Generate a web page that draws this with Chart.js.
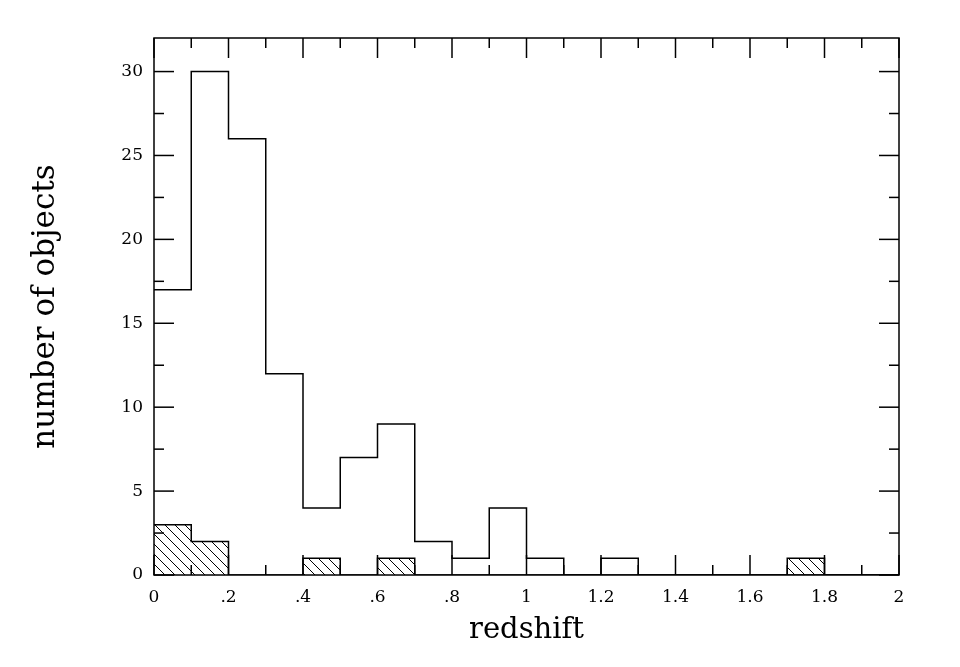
<!DOCTYPE html>
<html><head><meta charset="utf-8">
<script src="https://cdn.jsdelivr.net/npm/chart.js@4.4.0/dist/chart.umd.min.js"></script>
<style>html,body{margin:0;padding:0;background:#fff;} #wrap{width:960px;height:667px;}</style>
</head><body><div id="wrap"><canvas id="c" width="960" height="667"></canvas></div>
<script>
// Histogram bin edges (redshift), bin width 0.1
const binEdges = [0,0.1,0.2,0.3,0.4,0.5,0.6,0.7,0.8,0.9,1.0,1.1,1.2,1.3,1.4,1.5,1.6,1.7,1.8,1.9,2.0];
// Counts per bin (all objects)
const allCounts = [17,30,26,12,4,7,9,2,1,4,1,0,1,0,0,0,0,0,0,0];
// Counts per bin (hatched subset)
const hatchCounts = [3,2,0,0,1,0,1,0,0,0,0,0,0,0,0,0,0,1,0,0];
// Tick labels
const xTickLabels = ['0','.2','.4','.6','.8','1','1.2','1.4','1.6','1.8','2'];
const yTickLabels = ['0','5','10','15','20','25','30'];

function stepPoints(counts){
  return binEdges.map((e,i)=>({x:e, y: i<counts.length ? counts[i] : 0}));
}

const canvas = document.getElementById('c');
const ctx = canvas.getContext('2d');

function makeHatch(){
  const c = document.createElement('canvas');
  c.width = 10; c.height = 10;
  const g = c.getContext('2d');
  g.fillStyle = '#000';
  for (let i=0;i<10;i++) g.fillRect(i,i,1,1);
  return ctx.createPattern(c,'repeat');
}

const frameTicks = {
  id:'frameTicks',
  afterDraw(chart){
    const {ctx, chartArea:{left,right,top,bottom}} = chart;
    const xs = chart.scales.x, ys = chart.scales.y;
    ctx.save();
    ctx.strokeStyle = '#000';
    ctx.lineWidth = 1.5;
    ctx.strokeRect(left, top, right-left, bottom-top);
    const line=(a,b,c,d)=>{ctx.beginPath();ctx.moveTo(a,b);ctx.lineTo(c,d);ctx.stroke();};
    for (let k=0;k<=20;k++){
      const px = xs.getPixelForValue(k*0.1);
      const len = k%2===0 ? 20 : 10;
      line(px,bottom,px,bottom-len);
      line(px,top,px,top+len);
    }
    for (let k=0;k<=12;k++){
      const v = k*2.5;
      if (v>ys.max) continue;
      const py = ys.getPixelForValue(v);
      const len = k%2===0 ? 20 : 10;
      line(left,py,left+len,py);
      line(right,py,right-len,py);
    }
    ctx.restore();
  }
};

const FONT = "'DejaVu Serif', serif";

new Chart(ctx, {
  type:'line',
  data:{
    datasets:[
      {
        data: stepPoints(hatchCounts),
        stepped: true,
        fill: 'origin',
        backgroundColor: makeHatch(),
        borderColor:'#000',
        borderWidth:1.5,
        pointRadius:0
      },
      {
        data: stepPoints(allCounts),
        stepped: true,
        fill: false,
        borderColor:'#000',
        borderWidth:1.5,
        pointRadius:0
      }
    ]
  },
  options:{
    responsive:false,
    animation:false,
    devicePixelRatio:1,
    layout:{padding:{top:38,right:61,bottom:0,left:0}},
    plugins:{legend:{display:false},tooltip:{enabled:false}},
    scales:{
      x:{
        type:'linear', min:0, max:2,
        grid:{display:false, drawTicks:false},
        border:{display:false},
        ticks:{
          stepSize:0.2, autoSkip:false, maxRotation:0, padding:12,
          color:'#000', font:{family:FONT, size:17},
          callback:(v)=>{ const i=Math.round(v/0.2); return xTickLabels[i] ?? ''; }
        },
        title:{display:true, text:'redshift', color:'#000',
          font:{family:FONT, size:29, lineHeight:1.2}, padding:{top:0,bottom:19}},
        afterFit(s){ s.height = 92; }
      },
      y:{
        type:'linear', min:0, max:32,
        grid:{display:false, drawTicks:false},
        border:{display:false},
        ticks:{
          stepSize:5, includeBounds:false, padding:11,
          color:'#000', font:{family:FONT, size:17},
          callback:(v)=>{ const i=Math.round(v/5); return (Math.abs(v-i*5)<1e-6 && yTickLabels[i]) ? yTickLabels[i] : ''; }
        },
        title:{display:true, text:'number of objects', color:'#000',
          font:{family:FONT, size:31, lineHeight:1.2}, padding:{top:27,bottom:0}},
        afterFit(s){ s.width = 154; }
      }
    }
  },
  plugins:[frameTicks]
});
</script>
</body></html>
